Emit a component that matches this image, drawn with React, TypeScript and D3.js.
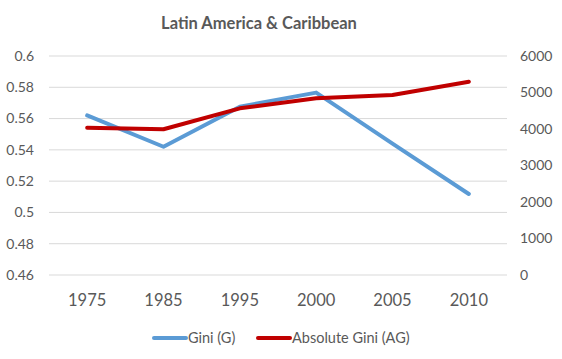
import React from "react";
import * as d3 from "d3";

const years = ["1975", "1985", "1995", "2000", "2005", "2010"];
const gini = [0.562, 0.542, 0.5676, 0.5766, 0.544, 0.5118];
const absGini = [4036, 3992, 4567, 4841, 4932, 5297];
const leftTicks = [0.46, 0.48, 0.5, 0.52, 0.54, 0.56, 0.58, 0.6];
const rightTicks = [0, 1000, 2000, 3000, 4000, 5000, 6000];

const W = 562, H = 359;
const font = "Lato, 'Open Sans', sans-serif";

export default function App() {
  const x = d3.scaleBand().domain(years).range([49, 507]);
  const yL = d3.scaleLinear().domain([0.46, 0.6]).range([275, 56]);
  const yR = d3.scaleLinear().domain([0, 6000]).range([275, 56]);
  const cx = (d: string) => (x(d) as number) + x.bandwidth() / 2;
  const lineL = d3.line<number>().x((_, i) => cx(years[i])).y((d) => yL(d));
  const lineR = d3.line<number>().x((_, i) => cx(years[i])).y((d) => yR(d));
  return (
    <svg width={W} height={H} style={{ position: "absolute", left: 0, top: 0, background: "#fff" }} fontFamily={font}>
      <text x={259} y={29} textAnchor="middle" fontSize={16.5} fontWeight="bold" fill="#595959">
        Latin America &amp; Caribbean
      </text>
      {leftTicks.map((t) => (
        <g key={t}>
          <line x1={49} x2={507} y1={yL(t)} y2={yL(t)} stroke="#d9d9d9" strokeWidth={1} />
          <text x={34} y={yL(t)} dy="0.35em" textAnchor="end" fontSize={14} fill="#595959">
            {String(t)}
          </text>
        </g>
      ))}
      {rightTicks.map((t) => (
        <text key={t} x={520} y={yR(t)} dy="0.35em" textAnchor="start" fontSize={14} fill="#595959">
          {t}
        </text>
      ))}
      {years.map((y) => (
        <text key={y} x={cx(y)} y={300} dy="0.35em" textAnchor="middle" fontSize={16.5} fill="#595959">
          {y}
        </text>
      ))}
      <path d={lineL(gini) || ""} fill="none" stroke="#5B9BD5" strokeWidth={4} strokeLinejoin="round" strokeLinecap="round" />
      <path d={lineR(absGini) || ""} fill="none" stroke="#C00000" strokeWidth={4} strokeLinejoin="round" strokeLinecap="round" />
      <line x1={154} x2={186} y1={338} y2={338} stroke="#5B9BD5" strokeWidth={4} strokeLinecap="round" />
      <text x={188} y={338} dy="0.35em" fontSize={14.5} fill="#595959">Gini (G)</text>
      <line x1={258} x2={290} y1={338} y2={338} stroke="#C00000" strokeWidth={4} strokeLinecap="round" />
      <text x={292} y={338} dy="0.35em" fontSize={14.5} fill="#595959">Absolute Gini (AG)</text>
    </svg>
  );
}
